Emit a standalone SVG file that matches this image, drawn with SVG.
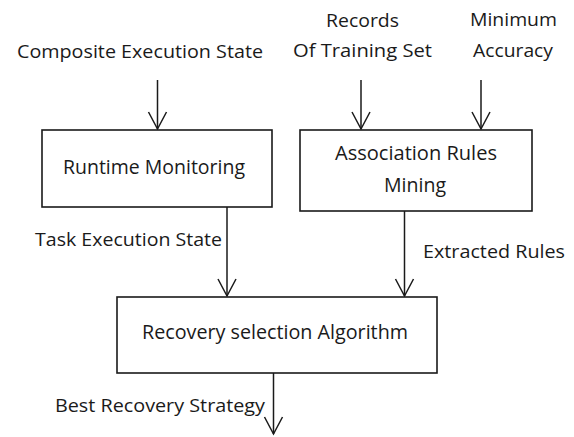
<svg xmlns="http://www.w3.org/2000/svg" width="574" height="437" viewBox="0 0 574 437">
<defs>
<style>
text{font-family:"Open Sans","Noto Sans","DejaVu Sans",sans-serif;font-size:19px;fill:#1a1a1a;}
.bt{font-size:20px;}
.box{fill:#fff;stroke:#1a1a1a;stroke-width:1.6;}
.ln{stroke:#1a1a1a;stroke-width:1.5;fill:none;}
.hd{stroke:#1a1a1a;stroke-width:1.5;fill:none;}
</style>
</defs>
<rect width="574" height="437" fill="#fff"/>
<g id="connectors">
<line class="ln" x1="157.5" y1="80" x2="157.5" y2="129"/><path class="hd" d="M148.5,112 L157.5,129 L166.5,112"/>
<line class="ln" x1="361" y1="80" x2="361" y2="129"/><path class="hd" d="M352,112 L361,129 L370,112"/>
<line class="ln" x1="481" y1="80" x2="481" y2="129"/><path class="hd" d="M472,112 L481,129 L490,112"/>
<line class="ln" x1="227" y1="207" x2="227" y2="296"/><path class="hd" d="M218,279 L227,296 L236,279"/>
<line class="ln" x1="404.5" y1="211" x2="404.5" y2="296"/><path class="hd" d="M395.5,279 L404.5,296 L413.5,279"/>
<line class="ln" x1="273.5" y1="373" x2="273.5" y2="434"/><path class="hd" d="M264.5,417 L273.5,434 L282.5,417"/>
</g>
<g id="labels">
<text x="17" y="58" textLength="246" lengthAdjust="spacingAndGlyphs">Composite Execution State</text>
<text x="326" y="27" textLength="73" lengthAdjust="spacingAndGlyphs">Records</text>
<text x="293" y="57" textLength="139" lengthAdjust="spacingAndGlyphs">Of Training Set</text>
<text x="470" y="26" textLength="87" lengthAdjust="spacingAndGlyphs">Minimum</text>
<text x="473" y="57" textLength="80" lengthAdjust="spacingAndGlyphs">Accuracy</text>
<text x="35" y="246" textLength="187" lengthAdjust="spacingAndGlyphs">Task Execution State</text>
<text x="423" y="258" textLength="142" lengthAdjust="spacingAndGlyphs">Extracted Rules</text>
<text x="55" y="412" textLength="210" lengthAdjust="spacingAndGlyphs">Best Recovery Strategy</text>
</g>
<g id="runtime">
<rect class="box" x="42" y="130" width="230" height="77"/>
<text class="bt" x="63" y="174" textLength="182" lengthAdjust="spacingAndGlyphs">Runtime Monitoring</text>
</g>
<g id="association">
<rect class="box" x="300" y="130" width="232" height="81"/>
<text class="bt" x="335" y="160" textLength="162" lengthAdjust="spacingAndGlyphs">Association Rules</text>
<text class="bt" x="384" y="192" textLength="62" lengthAdjust="spacingAndGlyphs">Mining</text>
</g>
<g id="recovery">
<rect class="box" x="117" y="297" width="320" height="76"/>
<text class="bt" x="142" y="339" textLength="266" lengthAdjust="spacingAndGlyphs">Recovery selection Algorithm</text>
</g>
</svg>
